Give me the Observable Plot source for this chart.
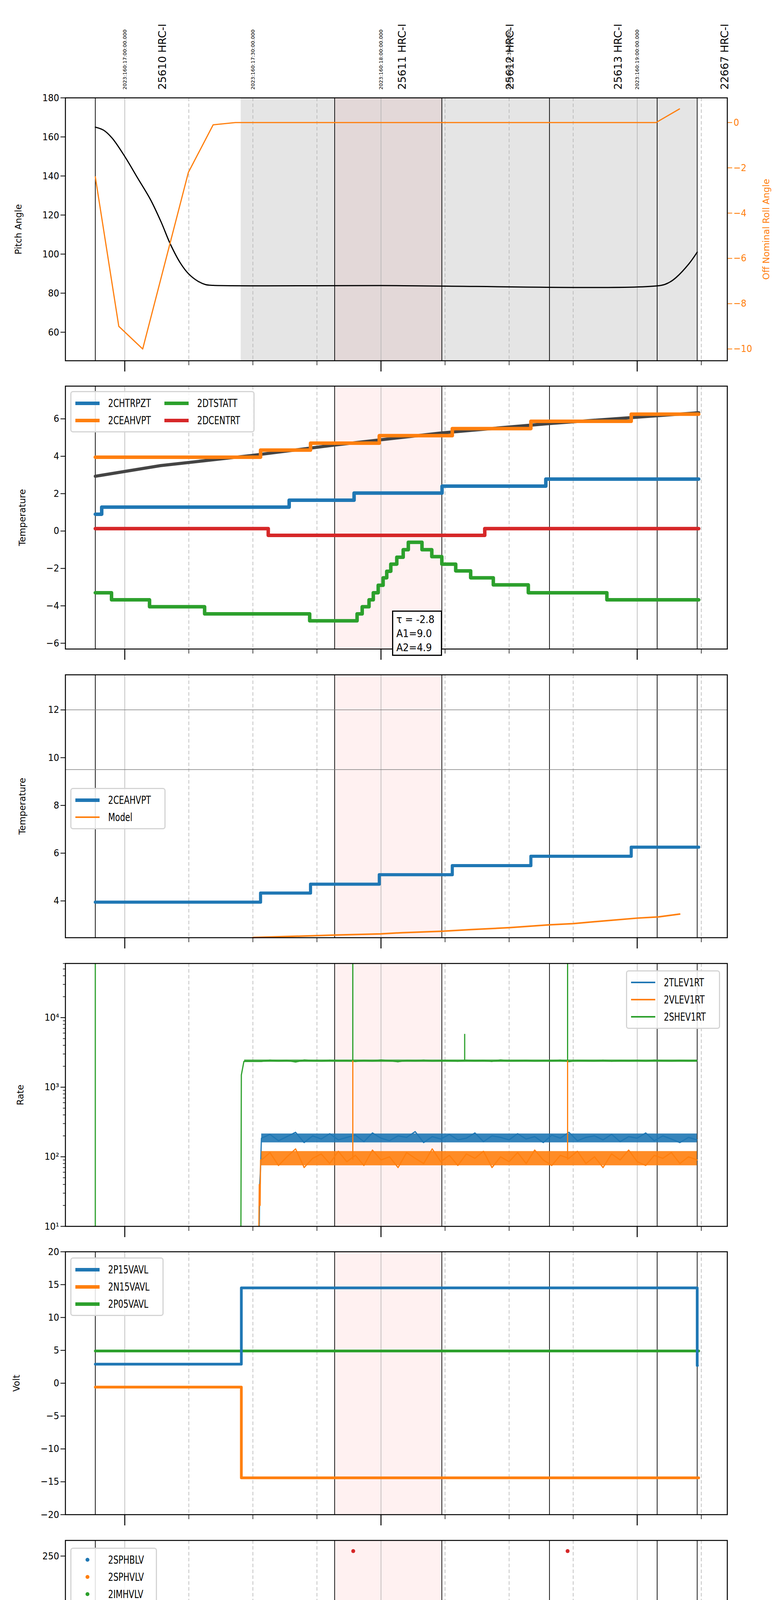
<!DOCTYPE html>
<html><head><meta charset="utf-8">
<script src="https://cdn.jsdelivr.net/npm/d3@7"></script>
<script src="https://cdn.jsdelivr.net/npm/@observablehq/plot@0.6"></script>
<style>
body{margin:0;background:#fff;}
#c{position:relative;width:2000px;height:6200px;font-family:"Liberation Sans Narrow","DejaVu Sans Condensed",sans-serif;}
.svgp{position:absolute;left:0;}
.lab{position:absolute;font-family:"DejaVu Sans",sans-serif;font-size:23px;white-space:nowrap;transform:translate(-50%,-50%) rotate(-90deg);}
.leg{position:absolute;border:3px solid #d4d4d4;border-radius:7px;background:rgba(255,255,255,0.85);padding:6px 10px;font-size:28px;box-sizing:border-box;}
.leg .it{display:flex;align-items:center;height:44px;}
.leg .it span{display:inline-block;transform:scaleX(0.82);transform-origin:left center;}
.leg .sw{width:62px;height:9px;margin-right:22px;flex:none;}
.leg .dt{width:10px;height:10px;border-radius:50%;margin:0 48px 0 26px;flex:none;}
.ann{position:absolute;border:3px solid #000;background:#fff;font-size:27px;line-height:36px;padding:2px 8px;box-sizing:border-box;}
</style></head><body><div id="c"></div>
<script>
// ---------- data (time = minutes after 12:00 on 2023-06-09) ----------
const obsLines = [53.1, 109.15, 134.25, 159.46, 184.67, 194.05];
const hourGrid = [60, 120, 180];
const quarterGrid = [75, 90, 105, 135, 150, 165, 195];
const pinkSpan = [109.15, 134.25];
const graySpan = [87.2, 194.05];
const obsLabels = [
  {t: 68.9, text: "25610 HRC-I", bold: false},
  {t: 125.0, text: "25611 HRC-I", bold: true},
  {t: 150.2, text: "25612 HRC-I", bold: false},
  {t: 175.6, text: "25613 HRC-I", bold: false},
  {t: 200.5, text: "22667 HRC-I", bold: false}
];
const timeLabels = [
  {t: 60, text: "2023:160:17:00:00.000"},
  {t: 90, text: "2023:160:17:30:00.000"},
  {t: 120, text: "2023:160:18:00:00.000"},
  {t: 150, text: "2023:160:18:30:00.000"},
  {t: 180, text: "2023:160:19:00:00.000"}
];
const pitch = [[53.1,165],[55,163.5],[57,159.5],[60.0,150],[63,139],[66.0,128],[68.5,116.5],[70.7,105],[73,95.5],[74.9,90],[77,86.3],[78.9,84.4],[80.7,84],[120,83.9],[185.6,84],[187.5,85.5],[189.1,88],[192.1,95],[194.05,101]];
const roll = [[53.1,-2.4],[58.6,-9.0],[64.2,-10.0],[74.9,-2.2],[80.7,-0.1],[85.9,0],[184.4,0],[189.9,0.6]];
const rollTicks = [0,-2,-4,-6,-8,-10];

const chtrpzt = [[53.1,0.9],[54.6,1.28],[98.5,1.65],[113.7,2.03],[134.3,2.4],[158.6,2.78],[194.4,2.78]];
const ceahvpt = [[53.1,3.95],[91.8,4.33],[103.5,4.7],[119.6,5.1],[136.7,5.48],[155.1,5.87],[178.6,6.25],[194.4,6.25]];
const dcentrt = [[53.1,0.13],[93.6,-0.23],[144.3,0.13],[194.4,0.13]];
const dtstatt = [[53.1,-3.3],[56.9,-3.68],[65.8,-4.05],[78.7,-4.43],[103.3,-4.8],[114.4,-4.43],[115.6,-4.05],[117.2,-3.68],[118.2,-3.3],[119.35,-2.9],[120.5,-2.5],[121.35,-2.15],[122.3,-1.77],[123.7,-1.4],[125.2,-1.0],[126.4,-0.6],[129.6,-1.0],[131.9,-1.37],[134.25,-1.77],[137.5,-2.13],[141.0,-2.5],[146.3,-2.88],[154.5,-3.3],[172.9,-3.68],[194.4,-3.68]];
const pzModel = [[53.1,2.93],[68.35,3.5],[90.0,4.05],[109.15,4.6],[134.25,5.25],[159.46,5.75],[194.4,6.33]];
const ceaModel = [[90.0,2.47],[100,2.52],[109.15,2.57],[119.9,2.62],[125,2.67],[134.25,2.73],[141,2.8],[150.1,2.88],[159.5,3.0],[165,3.05],[172,3.16],[180.0,3.28],[185,3.33],[189.95,3.45]];
const ceaLimits = [12, 9.5];

const rateT = [92,94,96,98,100,102,104,106,108,110,112,114,116,118,120,122,124,126,128,130,132,134,136,138,140,142,144,146,148,150,152,154,156,158,160,162,164,166,168,170,172,174,176,178,180,182,184,186,188,190,192,194];
const tlev = [185,210,170,195,225,160,200,180,215,175,190,205,165,220,185,170,200,190,230,160,195,180,210,175,185,220,165,200,190,175,215,180,195,160,205,185,225,170,190,200,175,210,165,195,185,220,170,200,180,160,190,175];
const vlev = [90,115,75,100,130,70,95,110,80,120,85,105,75,125,90,100,70,115,95,80,130,85,105,75,110,95,120,70,100,85,115,80,125,90,75,105,95,120,80,100,70,110,90,125,85,75,105,95,115,80,100,90];
const shev = [2350,2450,2380,2420,2300,2460,2400,2370,2440,2390,2410,2350,2430,2380,2460,2400,2320,2420,2390,2450,2370,2410,2400,2360,2440,2390,2420,2350,2460,2380,2400,2430,2370,2410,2390,2450,2330,2420,2400,2380,2440,2360,2410,2390,2430,2370,2450,2400,2380,2420,2390,2410];
const tlevBand = [[92,160,215],[194,160,215]];
const vlevBand = [[92,75,120],[194,75,120]];
const shevBand = [[88,2300,2480],[194,2300,2480]];
const tlevStart = [[91.5,10],[91.6,40],[91.8,70],[92,185]];
const vlevStart = [[91.4,10],[91.5,40],[91.7,20],[91.8,90],[92,90]];
const shevStart = [[87.2,10],[87.3,1500],[87.9,2350]];
const shevSpikes = [[53.1,10,60000],[113.4,2400,60000],[139.6,2400,5800],[163.7,2400,60000]];
const vlevSpikes = [[113.4,90,2400],[163.7,90,2400]];

const p15 = [[53.1,2.9],[87.3,14.5],[194.05,2.7],[194.1,2.7]];
const n15 = [[53.1,-0.6],[87.3,-14.4],[194.4,-14.4]];
const p05 = [[53.1,4.9],[194.4,4.9]];

const imhvlvDecay = [[88.6,109],[88.7,99],[89.0,100],[89.5,95],[90.0,90],[90.5,86],[91.0,83],[91.5,80],[92.0,79]];
const imhblvDecay = [[88.6,127],[88.62,125],[88.65,122],[88.8,115],[89.0,106],[89.5,101],[90.0,97],[90.5,92],[91.0,89],[91.5,87],[92.0,86],[113.5,255],[163.7,255]];
const imhvlvFlat = [[92,79],[194.4,79]];
const imhblvFlat = [[92,86],[194.4,86]];

const spinatm = [[87.3,2.35],[114.8,2.85],[115.5,3.3],[116.4,3.75],[117.6,4.2],[118.5,4.65],[119.6,5.1],[120.8,5.55],[121.9,6.05],[123.2,6.5],[124.6,7.0],[126.2,7.5],[128.5,7.0],[130.5,6.5],[132.3,6.0],[134.4,5.55],[136.9,5.1],[140.2,4.6],[144.6,4.15],[150.4,3.7],[159.0,3.25],[175.05,2.8],[194.4,2.8]];
const sphvatm = [[87.3,13.1],[87.4,13.6],[121.7,13.85],[142.8,14.15],[161.9,14.45],[181.7,14.7],[194.4,14.7]];
const iminatm = [[87.3,0.65],[148.1,1.1],[194.4,1.1]];
const imhvatm = [[87.3,-5],[87.35,13.05],[97.7,13.3],[103.5,13.55],[109.4,13.85],[113.3,-5],[113.5,13.85],[115.8,14.15],[122.9,14.45],[130.5,14.7],[139.9,14.95],[141.6,14.75],[141.75,14.95],[149.5,15.25],[160.4,15.5],[163.5,-5],[163.7,15.5],[173.3,15.75],[188.3,16.05],[194.4,16.05]];

const fhtrmzt = [[53.1,-8.8],[73.9,-8.4],[88.3,-8.8],[92.0,-8.4],[106.1,-8.0],[116.1,-7.6],[116.9,-6.8],[117.1,-7.6],[124.9,-7.2],[134.0,-6.75],[143.0,-6.4],[152.5,-6.0],[162.15,-5.6],[172.5,-5.2],[183.3,-4.8],[194.4,-4.8]];
const fradpyt = [[53.1,-10.5],[62.25,-10.05],[69.75,-9.65],[74.7,-10.05],[82.1,-10.5],[110.6,-10.05],[122.5,-9.65],[133.5,-9.2],[143.7,-8.8],[154.9,-8.4],[166.0,-8.0],[177.75,-7.6],[189.8,-7.2],[194.4,-7.2]];
const fepratm = [[87.3,-7.45],[89.7,-7.0],[92.0,-6.6],[94.7,-6.2],[97.9,-5.8],[102.1,-5.4],[107.3,-5.0],[113.5,-4.6],[120.3,-4.2],[128.4,-3.85],[136.9,-3.45],[145.7,-3.05],[155.4,-2.65],[165.3,-2.2],[175.9,-1.85],[187.1,-1.45],[194.4,-1.45]];
const fe00atm = [[87.3,-13],[87.35,-6.35],[99.8,-5.95],[103.7,-6.75],[103.85,-5.95],[105.9,-5.6],[112.55,-5.25],[113.3,-13],[113.5,-5.25],[114.85,-6.0],[115.0,-5.25],[117.75,-4.85],[117.9,-5.25],[119.0,-4.9],[120.8,-4.15],[120.95,-4.9],[125.6,-4.5],[129.0,-4.2],[129.15,-4.5],[132.4,-4.2],[133.6,-4.55],[133.75,-4.2],[139.6,-3.8],[142.5,-4.9],[142.65,-3.8],[146.7,-3.5],[152.25,-2.75],[152.4,-3.5],[153.95,-3.15],[161.9,-2.75],[163.6,-13],[163.75,-2.75],[170.1,-2.45],[177.35,-2.85],[177.5,-2.45],[178.0,-2.1],[180.6,-2.45],[180.75,-2.1],[183.8,-3.5],[183.95,-2.1],[186.1,-2.45],[186.25,-2.1],[187.0,-1.75],[194.4,-1.75]];

const C = {blue:"#1f77b4", orange:"#ff7f0e", green:"#2ca02c", red:"#d62728"};
// ---------- layout ----------
const X0 = 46.1, X1 = 201.1, ML = 167, MR = 138, PH = 673;
const tops = [250, 988, 1727, 2466, 3204, 3943, 4682, 5420];
const cont = document.getElementById("c");
const FONT = '"Liberation Sans Narrow","DejaVu Sans Condensed",sans-serif';

function background(shadeTop){
  const m = [];
  if (shadeTop) {
    m.push(Plot.rectX([graySpan], {x1: d=>d[0], x2: d=>d[1], fill: "#e5e5e5"}));
    m.push(Plot.rectX([pinkSpan], {x1: d=>d[0], x2: d=>d[1], fill: "#e3d8d8"}));
  } else {
    m.push(Plot.rectX([pinkSpan], {x1: d=>d[0], x2: d=>d[1], fill: "#fff1f1"}));
  }
  m.push(Plot.ruleX(hourGrid, {stroke: "#b0b0b0", strokeWidth: 1.5}));
  m.push(Plot.ruleX(quarterGrid, {stroke: "#b0b0b0", strokeWidth: 1.5, strokeDasharray: "9,6"}));
  m.push(Plot.ruleX(obsLines, {stroke: "#000", strokeWidth: 1.8}));
  return m;
}
function xAxes(bottom){
  const lab = (fmt) => bottom ? {tickFormat: fmt} : {fill: "none"};
  return [
    Plot.axisX(hourGrid, {anchor:"bottom", tickSize: 28, strokeWidth: 2.5, tickPadding: 12, fontSize: 30, label: null,
      ...lab(d => (12 + d/60) + "h")}),
    Plot.axisX(quarterGrid, {anchor:"bottom", tickSize: 12, strokeWidth: 1.5, tickPadding: 3, fontSize: 19, label: null,
      ...lab(d => String(d % 60))})
  ];
}
function panel(i, y, marks, opts = {}){
  const mt = opts.mt ?? 20, mb = opts.mb ?? 60;
  const p = Plot.plot({
    width: 2000, height: PH + mt + mb, marginLeft: ML, marginRight: MR, marginTop: mt, marginBottom: mb,
    x: {domain: [X0, X1], label: null}, y: Object.assign({label: null}, y),
    style: {fontFamily: FONT, fontSize: "24px", background: "transparent", overflow: "visible"},
    marks: [
      ...background(opts.shadeTop),
      ...marks,
      ...xAxes(opts.bottom),
      Plot.frame({stroke: "#000", strokeWidth: 2.5})
    ]
  });
  p.classList.add("svgp");
  p.style.top = (tops[i] - mt) + "px";
  cont.appendChild(p);
}
function yAxis(ticks, fmt){
  return Plot.axisY(ticks, {anchor: "left", tickSize: 12, strokeWidth: 2, tickPadding: 4, fontSize: 25, label: null, tickFormat: fmt || (d => String(d).replace("-", "\u2212"))});
}
function step(data, color, w, curve = "step-after"){
  return Plot.line(data, {x: d=>d[0], y: d=>d[1], stroke: color, strokeWidth: w, curve, clip: true});
}
function ylab(i, text, x = 47, color = "#000"){
  const d = document.createElement("div");
  d.className = "lab"; d.textContent = text; d.style.color = color;
  d.style.left = x + "px"; d.style.top = (tops[i] + PH/2) + "px";
  cont.appendChild(d);
}
function legend(x, y, items, cols = 1, dot = false){
  const d = document.createElement("div");
  d.className = "leg"; d.style.left = x + "px"; d.style.top = y + "px";
  d.style.display = "grid"; d.style.gridTemplateColumns = `repeat(${cols}, auto)`; d.style.columnGap = "10px";
  d.style.gridAutoFlow = cols > 1 ? "column" : "row";
  d.style.gridTemplateRows = cols > 1 ? `repeat(${Math.ceil(items.length/cols)}, 44px)` : "";
  for (const it of items) {
    const e = document.createElement("div"); e.className = "it";
    const s = document.createElement("div"); s.className = dot ? "dt" : "sw"; s.style.background = it.color;
    if (!dot && it.w) s.style.height = it.w + "px";
    const t = document.createElement("span"); t.textContent = it.label;
    e.appendChild(s); e.appendChild(t); d.appendChild(e);
  }
  cont.appendChild(d);
}

// ---- panel 1: pitch / roll ----
const pDom = [45.4, 180], rDom = [-10.52, 1.09];
const toP = r => pDom[0] + (r - rDom[0]) / (rDom[1] - rDom[0]) * (pDom[1] - pDom[0]);
const fromP = p => rDom[0] + (p - pDom[0]) / (pDom[1] - pDom[0]) * (rDom[1] - rDom[0]);
panel(0, {domain: pDom}, [
  step(pitch, "#000", 3, "catmull-rom"),
  Plot.line(roll, {x: d=>d[0], y: d=>toP(d[1]), stroke: C.orange, strokeWidth: 3}),
  yAxis([60,80,100,120,140,160,180]),
  Plot.axisY(rollTicks.map(toP), {anchor: "right", tickSize: 12, strokeWidth: 2, tickPadding: 4, fontSize: 25, label: null,
    stroke: C.orange, fill: C.orange, tickFormat: d => String(Math.round(fromP(d))).replace("-", "\u2212")}),
  Plot.text(timeLabels, {x: d=>d.t, text: d=>d.text, frameAnchor: "top", rotate: -90, textAnchor: "start", lineAnchor: "middle", dy: -21, fontSize: 13, fontFamily: "DejaVu Sans", letterSpacing: "1px"}),
  Plot.text(obsLabels, {x: d=>d.t, text: d=>d.text, frameAnchor: "top", rotate: -90, textAnchor: "start", lineAnchor: "middle", dy: -21, fontSize: 27, fontFamily: "DejaVu Sans", fontWeight: d => d.bold ? "bold" : "normal", letterSpacing: "1px"})
], {mt: 250, shadeTop: true});
ylab(0, "Pitch Angle", 47);
ylab(0, "Off Nominal Roll Angle", 1962, C.orange);

// ---- panel 2 ----
panel(1, {domain: [-6.31, 7.75]}, [
  Plot.line(pzModel, {x: d=>d[0], y: d=>d[1], stroke: "#444", strokeWidth: 8}),
  step(ceahvpt, C.orange, 9), step(chtrpzt, C.blue, 9), step(dcentrt, C.red, 9), step(dtstatt, C.green, 9),
  yAxis([-6,-4,-2,0,2,4,6])
]);
ylab(1, "Temperature", 57);
legend(180, 1001, [{label:"2CHTRPZT",color:C.blue},{label:"2CEAHVPT",color:C.orange},{label:"2DTSTATT",color:C.green},{label:"2DCENTRT",color:C.red}], 2);
{ const a = document.createElement("div"); a.className = "ann"; a.style.left = "1004px"; a.style.top = "1563px"; a.style.width = "128px"; a.style.height = "116px";
  a.innerHTML = "\u03c4 = -2.8<br>A1=9.0<br>A2=4.9"; cont.appendChild(a); }

// ---- panel 3 ----
panel(2, {domain: [2.46, 13.47]}, [
  Plot.ruleY(ceaLimits, {stroke: "#808080", strokeWidth: 1.5}),
  step(ceahvpt, C.blue, 8), Plot.line(ceaModel, {x: d=>d[0], y: d=>d[1], stroke: C.orange, strokeWidth: 4}),
  yAxis([4,6,8,10,12])
]);
ylab(2, "Temperature", 57);
legend(180, 2017, [{label:"2CEAHVPT",color:C.blue,w:9},{label:"Model",color:C.orange,w:4}]);

// ---- panel 4 (log rate) ----
const sup = {1:"\u00b9",2:"\u00b2",3:"\u00b3",4:"\u2074"};
const minor = []; for (const dec of [10,100,1000,10000]) for (const k of [2,3,4,5,6,7,8,9]) if (dec*k <= 60000) minor.push(dec*k);
const band = (data, color) => Plot.areaY(data, {x: d=>d[0], y1: d=>d[1], y2: d=>d[2], fill: color, fillOpacity: 0.9});
panel(3, {type: "log", domain: [10, 60000]}, [
  Plot.ruleX(shevSpikes, {x: d=>d[0], y1: d=>d[1], y2: d=>d[2], stroke: C.green, strokeWidth: 3, clip: true}),
  band(shevBand, C.green),
  Plot.line(shevStart.concat(rateT.map((t,i)=>[t, shev[i]])), {x: d=>d[0], y: d=>d[1], stroke: C.green, strokeWidth: 3, clip: true}),
  band(tlevBand, C.blue),
  Plot.line(tlevStart.concat(rateT.map((t,i)=>[t, tlev[i]])), {x: d=>d[0], y: d=>d[1], stroke: C.blue, strokeWidth: 3, clip: true}),
  band(vlevBand, C.orange),
  Plot.line(vlevStart.concat(rateT.map((t,i)=>[t, vlev[i]])), {x: d=>d[0], y: d=>d[1], stroke: C.orange, strokeWidth: 3, clip: true}),
  Plot.ruleX(vlevSpikes, {x: d=>d[0], y1: d=>d[1], y2: d=>d[2], stroke: C.orange, strokeWidth: 3}),
  Plot.axisY(minor, {anchor: "left", tickSize: 6, strokeWidth: 1.5, label: null, fill: "none"}),
  yAxis([10,100,1000,10000], d => "10" + sup[Math.round(Math.log10(d))])
]);
ylab(3, "Rate", 52);
legend(1603, 2484, [{label:"2TLEV1RT",color:C.blue,w:4},{label:"2VLEV1RT",color:C.orange,w:4},{label:"2SHEV1RT",color:C.green,w:4}]);

// ---- panel 5 (volt) ----
panel(4, {domain: [-20, 20]}, [
  step(p05, C.green, 7), step(n15, C.orange, 7), step(p15, C.blue, 7),
  yAxis([-20,-15,-10,-5,0,5,10,15,20])
]);
ylab(4, "Volt", 42);
legend(180, 3219, [{label:"2P15VAVL",color:C.blue},{label:"2N15VAVL",color:C.orange},{label:"2P05VAVL",color:C.green}]);

// ---- panel 6 (HV monitor) ----
panel(5, {domain: [0, 265.8]}, [
  Plot.line(imhvlvFlat, {x: d=>d[0], y: d=>d[1], stroke: C.green, strokeWidth: 10}),
  Plot.line(imhblvFlat, {x: d=>d[0], y: d=>d[1], stroke: C.red, strokeWidth: 10}),
  Plot.dot(imhvlvDecay, {x: d=>d[0], y: d=>d[1], fill: C.green, r: 5}),
  Plot.dot(imhblvDecay, {x: d=>d[0], y: d=>d[1], fill: C.red, r: 5}),
  yAxis([0,50,100,150,200,250])
]);
ylab(5, "HV Monitor", 47);
legend(180, 3962, [{label:"2SPHBLV",color:C.blue},{label:"2SPHVLV",color:C.orange},{label:"2IMHVLV",color:C.green},{label:"2IMHBLV",color:C.red}], 1, true);

// ---- panel 7 (detector temp) ----
panel(6, {domain: [-0.82, 17.03]}, [
  step(iminatm, C.green, 9), step(spinatm, C.blue, 9), step(sphvatm, C.orange, 9), step(imhvatm, C.red, 7),
  yAxis([0,2,4,6,8,10,12,14,16])
]);
ylab(6, "Detector Temp", 57);
legend(180, 4692, [{label:"2SPINATM",color:C.blue},{label:"2SPHVATM",color:C.orange},{label:"2IMINATM",color:C.green},{label:"2IMHVATM",color:C.red}]);

// ---- panel 8 (FEA temp) ----
panel(7, {domain: [-11.56, -0.72]}, [
  step(fradpyt, C.orange, 9), step(fhtrmzt, C.blue, 9), step(fepratm, C.green, 9), step(fe00atm, C.red, 7),
  yAxis([-10,-8,-6,-4,-2])
], {bottom: true, mb: 110});
ylab(7, "FEA Temp", 42);
legend(180, 5435, [{label:"2FHTRMZT",color:C.blue},{label:"2FRADPYT",color:C.orange},{label:"2FEPRATM",color:C.green},{label:"2FE00ATM",color:C.red}]);
{ const t = document.createElement("div"); t.textContent = "2023-06-09 (160)";
  t.style.cssText = "position:absolute;left:1014px;top:6182px;transform:translate(-50%,-50%);font-size:34px;";
  cont.appendChild(t); }
</script></body></html>
